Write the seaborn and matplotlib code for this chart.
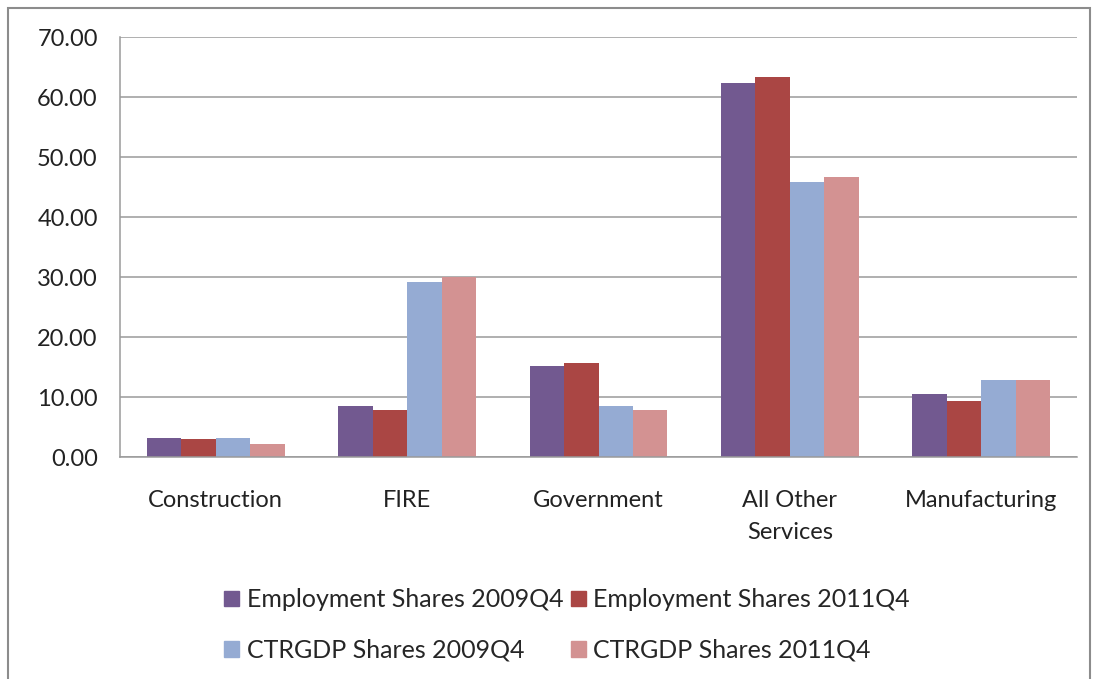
import matplotlib
matplotlib.use("Agg")
import matplotlib.pyplot as plt
import matplotlib.patches as mpatches
import seaborn as sns
import pandas as pd
import numpy as np

categories = ["Construction", "FIRE", "Government", "All Other\nServices", "Manufacturing"]
series_names = ["Employment Shares 2009Q4", "Employment Shares 2011Q4",
                "CTRGDP Shares 2009Q4", "CTRGDP Shares 2011Q4"]
emp_2009 = [3.2, 8.5, 15.1, 62.4, 10.5]
emp_2011 = [3.0, 7.8, 15.7, 63.4, 9.4]
gdp_2009 = [3.2, 29.1, 8.5, 45.9, 12.9]
gdp_2011 = [2.2, 30.0, 7.9, 46.7, 12.9]
colors = ["#725990", "#AA4644", "#95ABD3", "#D39292"]
y_ticks = [0, 10, 20, 30, 40, 50, 60, 70]

rows = []
for name, vals in zip(series_names, [emp_2009, emp_2011, gdp_2009, gdp_2011]):
    for cat, v in zip(categories, vals):
        rows.append({"Sector": cat, "Series": name, "Share": v})
df = pd.DataFrame(rows)

sns.set_theme(style="white")
plt.rcParams["font.family"] = ["Lato", "DejaVu Sans"]
FS = 17

fig = plt.figure(figsize=(10.94, 6.79), dpi=100)
ax = fig.add_axes([120 / 1094, 1 - 457 / 679, (1077 - 120) / 1094, (457 - 37) / 679])

sns.barplot(data=df, x="Sector", y="Share", hue="Series", order=categories,
            hue_order=series_names, palette=colors, width=0.72, saturation=1,
            ax=ax, legend=False, linewidth=0)

ax.set_ylim(0, 70)
ax.set_xlim(-0.5, len(categories) - 0.5)
ax.set_yticks(y_ticks)
ax.set_yticklabels([f"{t:.2f}" for t in y_ticks], fontsize=FS, color="#222222")
ax.yaxis.grid(True, color="#9a9a9a", linewidth=1.1)
ax.set_axisbelow(True)
ax.set_xlabel("")
ax.set_ylabel("")

# category labels with boundary ticks between groups
ax.set_xticks(np.arange(len(categories)))
ax.set_xticklabels(categories, fontsize=FS, color="#222222", linespacing=1.6)
ax.tick_params(axis="x", length=0, pad=24)
ax.set_xticks(np.arange(-0.5, len(categories), 1.0), minor=True)
ax.tick_params(axis="x", which="minor", length=6, color="#9a9a9a", width=1.1, direction="out")
ax.tick_params(axis="y", length=6, color="#9a9a9a", width=1.1, direction="out", pad=10)

for side in ["top", "right"]:
    ax.spines[side].set_visible(False)
for side in ["left", "bottom"]:
    ax.spines[side].set_color("#9a9a9a")
    ax.spines[side].set_linewidth(1.1)

# legend laid out row by row: matplotlib fills columns first, so reorder
handles = [mpatches.Patch(color=c, label=n) for c, n in zip(colors, series_names)]
order = [0, 2, 1, 3]
fig.legend(handles=[handles[i] for i in order], ncol=2, loc="center",
           bbox_to_anchor=(567 / 1094, 1 - 625 / 679),
           frameon=False, fontsize=18, handlelength=0.6, handleheight=0.6,
           handletextpad=0.3, columnspacing=0.3, labelspacing=1.1, borderaxespad=0)

# outer chart frame
fig.patches.append(mpatches.Rectangle((8 / 1094, -0.02), (1090 - 8) / 1094, 1 - 8 / 679 + 0.02,
                                      transform=fig.transFigure, fill=False,
                                      edgecolor="#8c8c8c", linewidth=1.5))

fig.savefig("out.png", dpi=100)
